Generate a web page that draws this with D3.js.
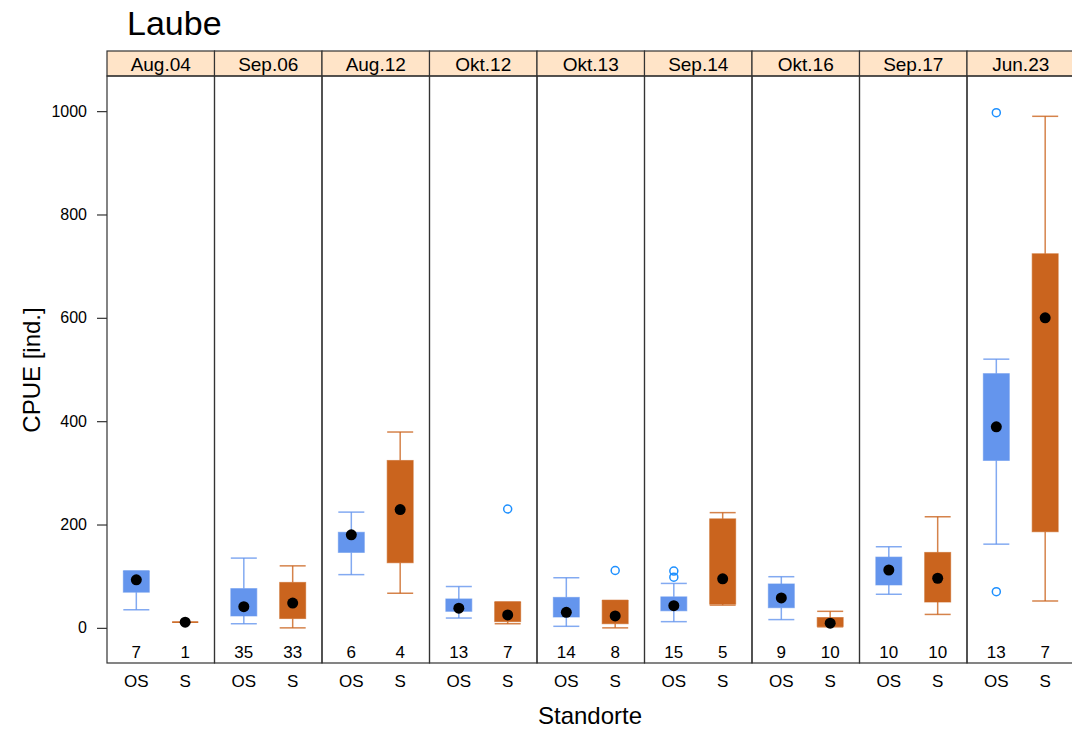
<!DOCTYPE html>
<html>
<head>
<meta charset="utf-8">
<script src="https://cdn.jsdelivr.net/npm/d3@7"></script>
<style>
  body { margin: 0; background: #fff; }
  svg text { font-family: "Liberation Sans", Arial, sans-serif; }
</style>
</head>
<body>
<svg id="chart" width="1072" height="731"></svg>
<script>
// Sampling dates (one panel each) and sites within each panel
const periods = ["Aug.04", "Sep.06", "Aug.12", "Okt.12", "Okt.13", "Sep.14", "Okt.16", "Sep.17", "Jun.23"];
const sites = ["OS", "S"];

// Box statistics per period, as [OS, S]
const whiskerLow  = [[35, 11], [8, 0],    [103, 67],  [19, 8],  [3, 0],   [12, 44],  [16, 2],  [65, 26],  [162, 52]];
const boxLow      = [[69, 11], [23, 18],  [146, 126], [32, 12], [21, 8],  [33, 46],  [39, 3],  [83, 50],  [324, 186]];
const boxHigh     = [[110, 11],[76, 88],  [185, 324], [56, 50], [59, 53], [60, 211], [85, 20], [137, 146],[492, 724]];
const whiskerHigh = [[110, 11],[135, 120],[224, 379], [80, 50], [97, 53], [86, 223], [99, 32], [157, 215],[520, 990]];
const centre      = [[93, 11], [41, 48],  [180, 229], [38, 25], [30, 23], [43, 95],  [58, 9],  [112, 96], [389, 600]];
const counts      = [[7, 1],   [35, 33],  [6, 4],     [13, 7],  [14, 8],  [15, 5],   [9, 10],  [10, 10],  [13, 7]];
const outliers    = [[[], []], [[], []],  [[], []],   [[], [230]], [[], [111]], [[110, 98], []], [[], []], [[], []], [[997, 70], []]];

const yTicks = [0, 200, 400, 600, 800, 1000];

const fills = { OS: "#6495ED", S: "#CA641E" };
const outlierColour = "#1E90FF";

const svg = d3.select("#chart");

const plotLeft = 107, panelW = 107.5;
const stripTop = 51, stripBottom = 76, plotBottom = 663;

const y = d3.scaleLinear().domain([-68, 1068]).range([plotBottom, stripBottom]);
const panelX = d3.scaleBand().domain(periods).range([plotLeft, plotLeft + panelW * periods.length]).padding(0);
const x = d3.scalePoint().domain(sites).range([0.6 / 2.2 * panelW, 1.6 / 2.2 * panelW]);

// Title
svg.append("text").attr("x", 127).attr("y", 35).attr("font-size", 34).attr("fill", "#000").text("Laube");

// Panels
const boxW = 26;
periods.forEach((p, i) => {
  const g = svg.append("g").attr("transform", `translate(${panelX(p)},0)`);
  // strip
  g.append("rect").attr("x", 0).attr("y", stripTop).attr("width", panelW).attr("height", stripBottom - stripTop)
    .attr("fill", "#FFE4C8").attr("stroke", "#333").attr("stroke-width", 1.2);
  g.append("text").attr("x", panelW / 2).attr("y", 71).attr("text-anchor", "middle")
    .attr("font-size", 19).text(p);
  // panel frame
  g.append("rect").attr("x", 0).attr("y", stripBottom).attr("width", panelW).attr("height", plotBottom - stripBottom)
    .attr("fill", "none").attr("stroke", "#333").attr("stroke-width", 1.2);

  sites.forEach((s, j) => {
    const cx = x(s);
    const col = fills[s];
    const wl = whiskerLow[i][j], bl = boxLow[i][j], bh = boxHigh[i][j], wh = whiskerHigh[i][j];
    const wg = g.append("g").attr("stroke", col).attr("stroke-width", 1.5).attr("stroke-opacity", 0.8);
    // whiskers
    wg.append("line").attr("x1", cx).attr("x2", cx).attr("y1", y(bh)).attr("y2", y(wh));
    wg.append("line").attr("x1", cx).attr("x2", cx).attr("y1", y(bl)).attr("y2", y(wl));
    wg.append("line").attr("x1", cx - boxW / 2).attr("x2", cx + boxW / 2).attr("y1", y(wh)).attr("y2", y(wh));
    wg.append("line").attr("x1", cx - boxW / 2).attr("x2", cx + boxW / 2).attr("y1", y(wl)).attr("y2", y(wl));
    // box
    if (bh > bl) {
      g.append("rect").attr("x", cx - boxW / 2).attr("width", boxW)
        .attr("y", y(bh)).attr("height", y(bl) - y(bh)).attr("fill", col)
        .attr("stroke", col).attr("stroke-opacity", 0.6);
    }
    // outliers
    outliers[i][j].forEach(v => {
      g.append("circle").attr("cx", cx).attr("cy", y(v)).attr("r", 4)
        .attr("fill", "none").attr("stroke", outlierColour).attr("stroke-width", 1.5);
    });
    // centre dot
    g.append("circle").attr("cx", cx).attr("cy", y(centre[i][j])).attr("r", 5.5).attr("fill", "#000");
    // sample size
    g.append("text").attr("x", cx).attr("y", 658).attr("text-anchor", "middle").attr("font-size", 17)
      .text(counts[i][j]);
    // site label
    g.append("text").attr("x", cx).attr("y", 687).attr("text-anchor", "middle").attr("font-size", 17)
      .text(s);
  });
});

// Y axis
const yAxis = d3.axisLeft(y).tickValues(yTicks).tickSize(10).tickPadding(10).tickFormat(d3.format("d"));
const ya = svg.append("g").attr("transform", `translate(${plotLeft},0)`).call(yAxis);
ya.select(".domain").remove();
ya.selectAll("line").attr("stroke", "#333").attr("stroke-width", 1.2);
ya.selectAll("text").attr("font-size", 16).attr("font-family", "Liberation Sans, Arial, sans-serif").attr("fill", "#000");

// Axis titles
svg.append("text").attr("transform", "translate(40,370) rotate(-90)").attr("text-anchor", "middle")
  .attr("font-size", 24).text("CPUE [ind.]");
svg.append("text").attr("x", 590).attr("y", 724).attr("text-anchor", "middle")
  .attr("font-size", 24).text("Standorte");
</script>
</body>
</html>
